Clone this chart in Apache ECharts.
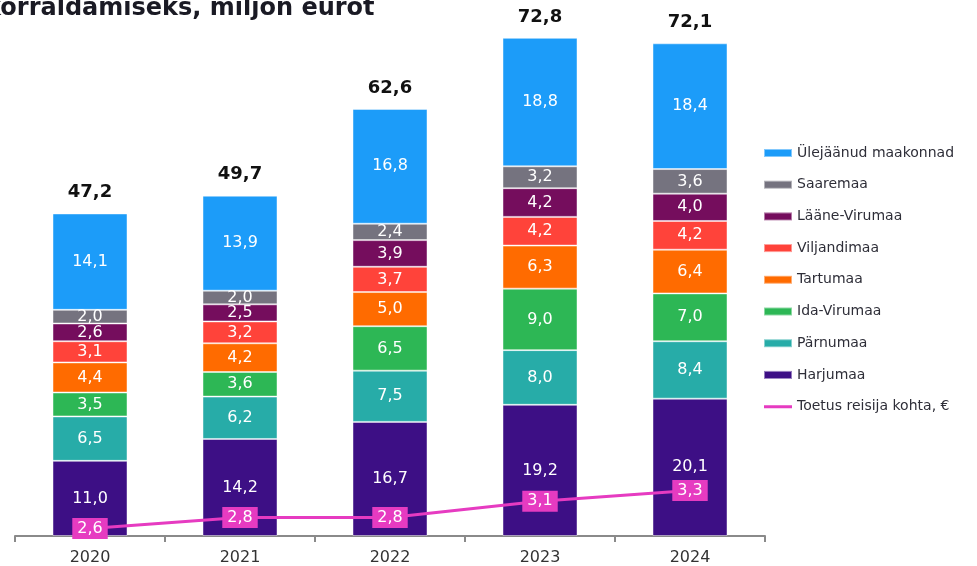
<!DOCTYPE html>
<html>
<head>
<meta charset="utf-8">
<script src="https://cdn.jsdelivr.net/npm/echarts@6/dist/echarts.min.js"></script>
<style>
  html, body { margin: 0; padding: 0; background: #fff; }
  #chart { width: 977px; height: 566px; }
</style>
</head>
<body>
<div id="chart"></div>
<script>
const years = ['2020', '2021', '2022', '2023', '2024']

const harjumaa = [11.0, 14.2, 16.7, 19.2, 20.1]
const parnumaa = [6.5, 6.2, 7.5, 8.0, 8.4]
const idaVirumaa = [3.5, 3.6, 6.5, 9.0, 7.0]
const tartumaa = [4.4, 4.2, 5.0, 6.3, 6.4]
const viljandimaa = [3.1, 3.2, 3.7, 4.2, 4.2]
const laaneVirumaa = [2.6, 2.5, 3.9, 4.2, 4.0]
const saaremaa = [2.0, 2.0, 2.4, 3.2, 3.6]
const ulejaanud = [14.1, 13.9, 16.8, 18.8, 18.4]
const totals = [47.2, 49.7, 62.6, 72.8, 72.1]
const toetus = [2.6, 2.8, 2.8, 3.1, 3.3]

const fmt = (v) => v.toFixed(1).replace('.', ',')
const font = 'DejaVu Sans'
const pink = '#e63bc1'

const bars = [
  { name: 'Harjumaa', data: harjumaa, color: '#3d0f85' },
  { name: 'Pärnumaa', data: parnumaa, color: '#27aca8' },
  { name: 'Ida-Virumaa', data: idaVirumaa, color: '#2db755' },
  { name: 'Tartumaa', data: tartumaa, color: '#ff6b00' },
  { name: 'Viljandimaa', data: viljandimaa, color: '#ff433a' },
  { name: 'Lääne-Virumaa', data: laaneVirumaa, color: '#750d5d' },
  { name: 'Saaremaa', data: saaremaa, color: '#75737f' },
  { name: 'Ülejäänud maakonnad', data: ulejaanud, color: '#1c9cf9' }
]

const chart = echarts.init(document.getElementById('chart'))

const series = bars.map((b) => ({
  name: b.name,
  type: 'bar',
  stack: 'kokku',
  barWidth: 75,
  data: b.data,
  itemStyle: { color: b.color, borderColor: 'rgba(255,255,255,0.45)', borderWidth: 1 },
  label: {
    show: true,
    position: 'inside',
    color: '#fff',
    fontFamily: font,
    fontSize: 16,
    formatter: (p) => fmt(p.value)
  }
}))

// kokku silt tulba kohal
series.push({
  name: 'Kokku',
  type: 'bar',
  stack: 'kokku',
  barWidth: 75,
  data: totals.map(() => 0),
  itemStyle: { color: 'transparent' },
  label: {
    show: true,
    position: 'top',
    distance: 12,
    color: '#111',
    fontFamily: font,
    fontWeight: 'bold',
    fontSize: 18,
    formatter: (p) => fmt(totals[p.dataIndex])
  }
})

series.push({
  name: 'Toetus reisija kohta, €',
  type: 'line',
  yAxisIndex: 1,
  data: toetus,
  symbol: 'rect',
  symbolSize: 2,
  showSymbol: true,
  lineStyle: { color: pink, width: 3 },
  itemStyle: { color: pink },
  label: {
    show: true,
    position: 'inside',
    color: '#fff',
    fontFamily: font,
    fontSize: 16,
    backgroundColor: pink,
    padding: [3, 5, 2, 5],
    formatter: (p) => fmt(p.value)
  },
  z: 5
})

const legendData = bars.slice().reverse().map((b) => ({ name: b.name, icon: 'rect' }))
legendData.push({
  name: 'Toetus reisija kohta, €',
  icon: 'path://M0,0h28v0.01h-28zM0,2.6h28v3h-28zM0,7.99h28v0.01h-28z'
})

const option = {
  animation: false,
  graphic: [
    {
      type: 'text',
      left: -15,
      top: -3,
      style: {
        text: 'korraldamiseks, miljon eurot',
        fontFamily: font,
        fontWeight: 'bold',
        fontSize: 24,
        fill: '#1a1a24'
      }
    }
  ],
  legend: {
    orient: 'vertical',
    left: 758,
    top: 141,
    itemWidth: 28,
    itemHeight: 8,
    itemGap: 17.7,
    textStyle: { fontFamily: font, fontSize: 14, color: '#2e2e38' },
    data: legendData
  },
  grid: { left: 15, right: 212, top: 3, bottom: 29 },
  xAxis: {
    type: 'category',
    data: years,
    axisLine: { lineStyle: { color: '#8a8a8a', width: 2 } },
    axisTick: { show: true, length: 6, lineStyle: { color: '#8a8a8a', width: 2 } },
    axisLabel: { color: '#333', fontFamily: font, fontSize: 16, margin: 14 }
  },
  yAxis: [
    { type: 'value', min: 0, max: 78, show: false, splitLine: { show: false } },
    { type: 'value', min: 2.46, max: 12.29, show: false, splitLine: { show: false } }
  ],
  series: series
}

chart.setOption(option)
</script>
</body>
</html>
